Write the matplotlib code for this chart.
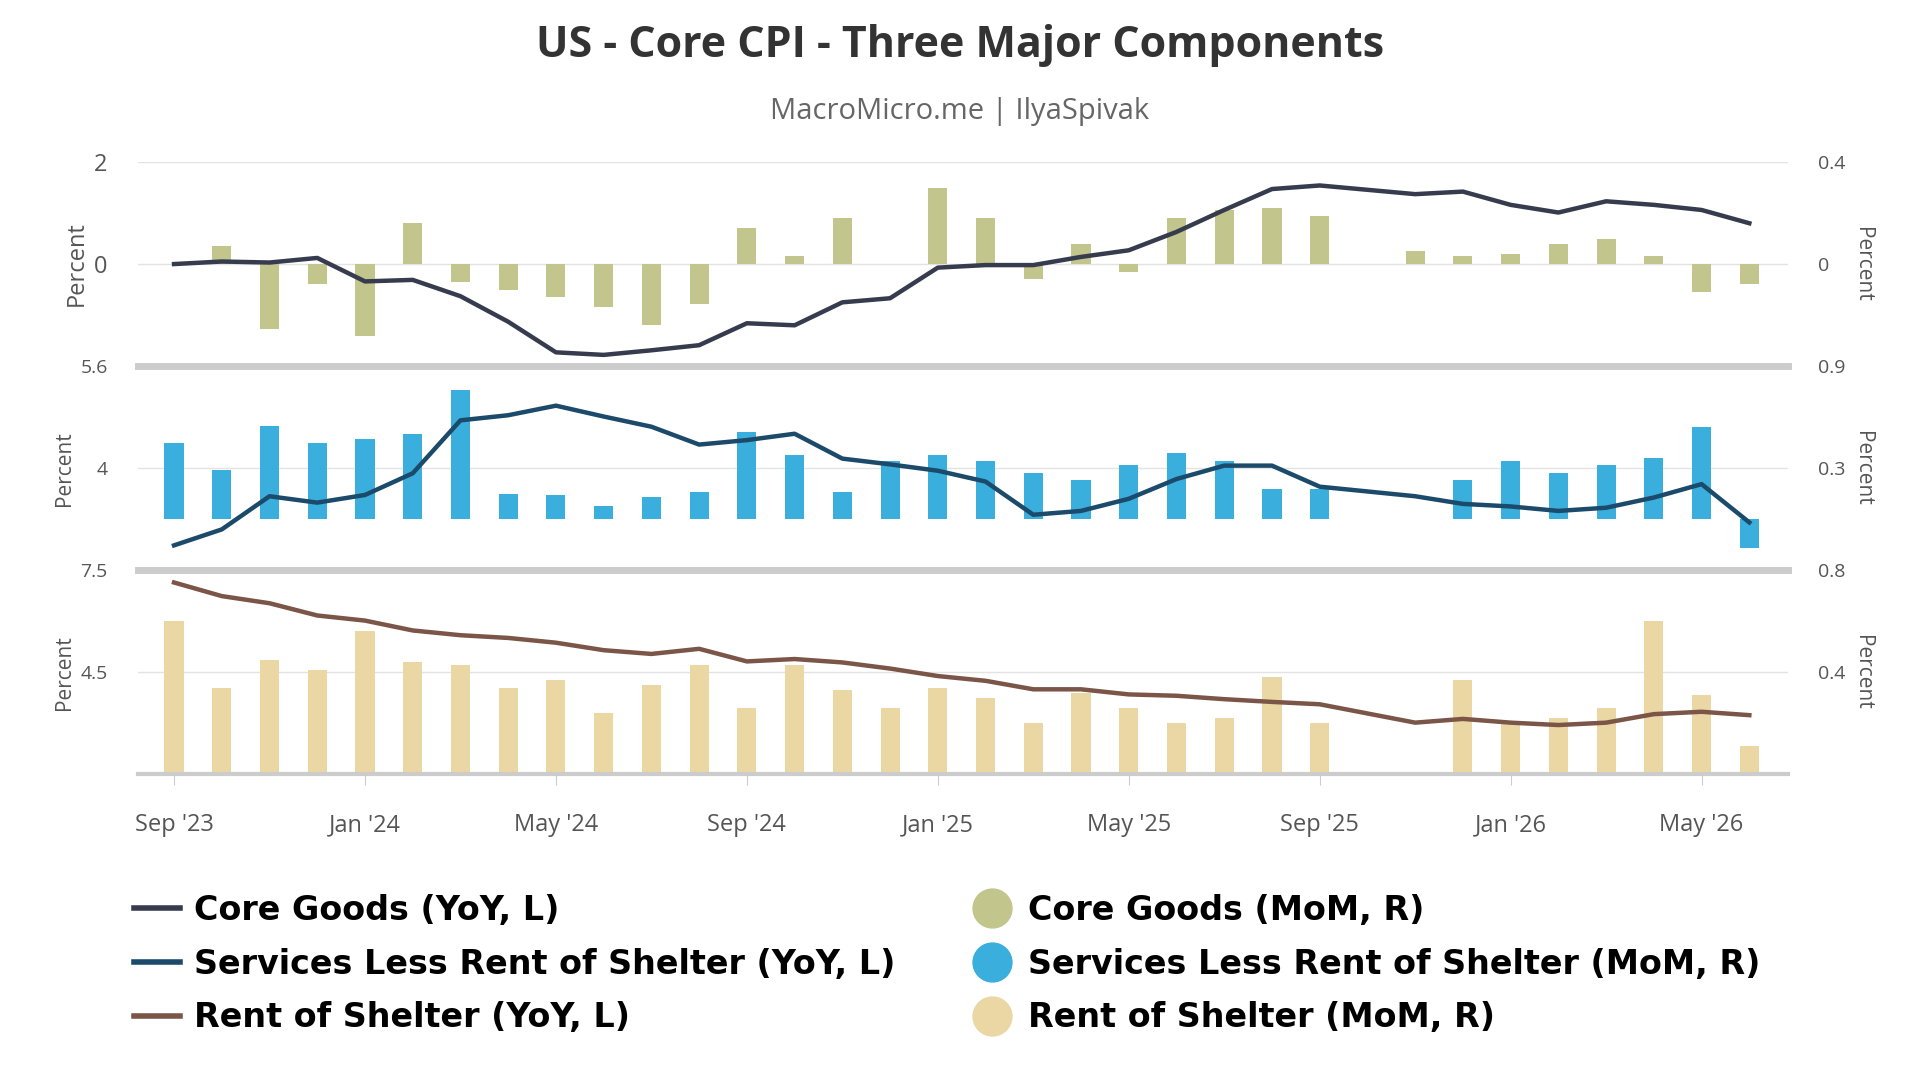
import numpy as np
import matplotlib
matplotlib.use("Agg")
import matplotlib.pyplot as plt
from matplotlib.lines import Line2D

nan = np.nan
months = ["Sep '23","Oct '23","Nov '23","Dec '23","Jan '24","Feb '24","Mar '24","Apr '24","May '24","Jun '24","Jul '24","Aug '24",
          "Sep '24","Oct '24","Nov '24","Dec '24","Jan '25","Feb '25","Mar '25","Apr '25","May '25","Jun '25","Jul '25","Aug '25",
          "Sep '25","Oct '25","Nov '25","Dec '25","Jan '26","Feb '26","Mar '26","Apr '26","May '26","Jun '26"]
tick_labels = ["Sep '23","Jan '24","May '24","Sep '24","Jan '25","May '25","Sep '25","Jan '26","May '26"]

goods_yoy = [0.0,0.05,0.03,0.12,-0.34,-0.31,-0.63,-1.13,-1.73,-1.78,-1.69,-1.59,-1.16,-1.2,-0.75,-0.67,-0.07,-0.02,-0.02,0.14,0.27,0.63,1.06,1.47,1.54,nan,1.37,1.42,1.16,1.01,1.23,1.16,1.06,0.8]
goods_mom = [0.0,0.07,-0.255,-0.08,-0.28,0.16,-0.07,-0.10,-0.13,-0.17,-0.24,-0.155,0.14,0.03,0.18,0.0,0.30,0.18,-0.06,0.08,-0.03,0.18,0.21,0.22,0.19,nan,0.05,0.03,0.04,0.08,0.10,0.03,-0.11,-0.08]
serv_yoy = [2.79,3.04,3.56,3.46,3.58,3.92,4.75,4.83,4.98,4.81,4.65,4.37,4.44,4.54,4.15,4.06,3.96,3.79,3.27,3.33,3.52,3.83,4.04,4.04,3.71,nan,3.56,3.44,3.40,3.33,3.38,3.54,3.75,3.15]
serv_mom = [0.45,0.29,0.55,0.45,0.47,0.50,0.76,0.15,0.14,0.08,0.13,0.16,0.51,0.38,0.16,0.34,0.38,0.34,0.27,0.23,0.32,0.39,0.34,0.18,0.18,nan,nan,0.23,0.34,0.27,0.32,0.36,0.54,-0.17]
rent_yoy = [7.14,6.74,6.53,6.17,6.02,5.73,5.59,5.51,5.37,5.15,5.04,5.19,4.82,4.89,4.79,4.61,4.39,4.25,4.0,4.0,3.85,3.81,3.71,3.63,3.56,nan,3.02,3.13,3.02,2.95,3.02,3.27,3.34,3.24]
rent_mom = [0.60,0.34,0.45,0.41,0.56,0.44,0.43,0.34,0.37,0.24,0.35,0.43,0.26,0.43,0.33,0.26,0.34,0.30,0.20,0.32,0.26,0.20,0.22,0.38,0.20,nan,nan,0.37,0.20,0.22,0.26,0.60,0.31,0.11]

C_GOODS_L, C_GOODS_B = "#363b4e", "#c2c58c"
C_SERV_L, C_SERV_B = "#1b4a6b", "#3aaedc"
C_RENT_L, C_RENT_B = "#7a5548", "#ead7a3"

plt.rcParams['font.family'] = ['Open Sans', 'DejaVu Sans']
fig = plt.figure(figsize=(19.2, 10.8), dpi=100)
x = np.arange(len(months))

panels = [
    (goods_yoy, goods_mom, C_GOODS_L, C_GOODS_B, (-2, 2), [0, 2], ["0", "2"], (-0.4, 0.4), [0, 0.4], ["0", "0.4"]),
    (serv_yoy, serv_mom, C_SERV_L, C_SERV_B, (2.4, 5.6), [4, 5.6], ["4", "5.6"], (-0.3, 0.9), [0.3, 0.9], ["0.3", "0.9"]),
    (rent_yoy, rent_mom, C_RENT_L, C_RENT_B, (1.5, 7.5), [4.5, 7.5], ["4.5", "7.5"], (0, 0.8), [0.4, 0.8], ["0.4", "0.8"]),
]
tops = [0.85, 0.661, 0.472]
h = 0.189
left, width = 0.072, 0.859
axes = []
for i, (yoy, mom, cl, cb, ylL, tL, lL, ylR, tR, lR) in enumerate(panels):
    ax = fig.add_axes([left, tops[i] - h, width, h])
    axr = ax.twinx()
    axr.bar(x, mom, width=0.4, color=cb, zorder=2)
    yv = np.array(yoy); m = ~np.isnan(yv)
    ax.plot(x[m], yv[m], color=cl, lw=3.2, zorder=5)
    ax.set_zorder(axr.get_zorder() + 1); ax.patch.set_visible(False)
    ax.set_ylim(*ylL); axr.set_ylim(*ylR)
    ax.set_xlim(-0.75, 33.8)
    ax.set_yticks(tL); ax.set_yticklabels(lL)
    axr.set_yticks(tR); axr.set_yticklabels(lR)
    for a in (ax, axr):
        for s in a.spines.values():
            s.set_visible(False)
        a.tick_params(length=0, labelsize=14, colors="#555555")
    ax.tick_params(axis='y', labelsize=17 if i == 0 else 14, pad=22)
    axr.tick_params(axis='y', pad=22)
    axr.yaxis.grid(True, color="#e3e3e3", lw=1); axr.set_axisbelow(True)
    ax.set_ylabel("Percent", fontsize=17 if i == 0 else 15, color="#555555")
    axr.set_ylabel("Percent", fontsize=15, color="#555555", rotation=270, labelpad=20)
    ax.axhline(ylL[0], color="#cccccc", lw=5 if i < 2 else 3, zorder=1, clip_on=False)
    ax.set_xticks([])
    axes.append(ax)

ax = axes[-1]
ax.set_xticks(np.arange(0, 34, 4))
ax.set_xticklabels(tick_labels, fontsize=17, color="#555555")
ax.tick_params(axis='x', length=8, color="#cccccc", pad=20)

fig.text(0.5, 0.958, "US - Core CPI - Three Major Components", ha='center', va='center',
         fontsize=31, fontweight='bold', color="#333333")
fig.text(0.5, 0.897, "MacroMicro.me | IlyaSpivak", ha='center', va='center', fontsize=21, color="#666666")

handles = [
    Line2D([], [], color=C_GOODS_L, lw=4),
    Line2D([], [], color=C_SERV_L, lw=4),
    Line2D([], [], color=C_RENT_L, lw=4),
    Line2D([], [], ls='', marker='o', ms=28, color=C_GOODS_B),
    Line2D([], [], ls='', marker='o', ms=28, color=C_SERV_B),
    Line2D([], [], ls='', marker='o', ms=28, color=C_RENT_B),
]
labels = ["Core Goods (YoY, L)", "Services Less Rent of Shelter (YoY, L)", "Rent of Shelter (YoY, L)",
          "Core Goods (MoM, R)", "Services Less Rent of Shelter (MoM, R)", "Rent of Shelter (MoM, R)"]
leg = fig.legend(handles, labels, loc='upper left', bbox_to_anchor=(0.054, 0.200), ncol=2, frameon=False,
                 prop={'family': 'DejaVu Sans', 'weight': 'bold', 'size': 24}, handlelength=1.4,
                 handletextpad=0.4, columnspacing=2.2, labelspacing=0.62)
fig.savefig("out.png", dpi=100)
